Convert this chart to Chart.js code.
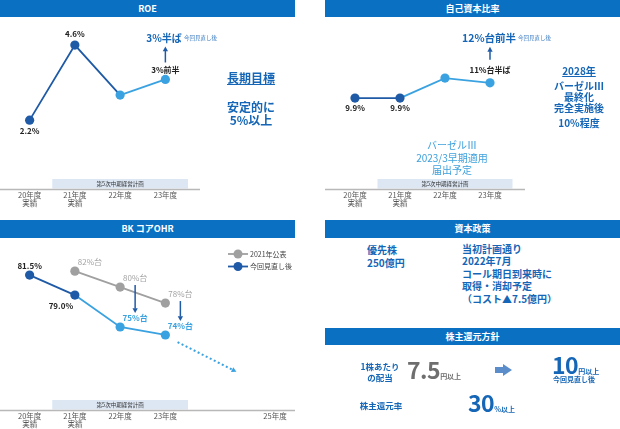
<!DOCTYPE html>
<html lang="ja">
<head>
<meta charset="utf-8">
<script src="https://cdn.jsdelivr.net/npm/chart.js@4.4.1/dist/chart.umd.min.js"></script>
<style>
  body { margin: 0; width: 620px; height: 429px; position: relative; overflow: hidden; background: #fff;
         font-family: "Noto Sans CJK JP", sans-serif; }
  .head { position: absolute; height: 17px; line-height: 17px; background: #0A70C2; color: #fff;
          font-weight: bold; font-size: 9px; text-align: center; }
  .box { position: absolute; }
  .t { position: absolute; transform: translate(-50%, -50%); white-space: nowrap; line-height: 1; }
  .l { position: absolute; transform: translateY(-50%); white-space: nowrap; line-height: 1; }
  .blue { color: #1566B6; font-weight: bold; }
  .light { color: #3DA0DC; }
  .small { font-size: 5.5px; font-weight: normal; color: #3C7CC0; }
  .big { font-size: 23px; font-weight: bold; letter-spacing: -0.5px; }
  .unit { font-size: 7px; font-weight: bold; letter-spacing: 0; }
</style>
</head>
<body>

<div class="head" style="left:0;top:0;width:295px;">ROE</div>
<div class="head" style="left:325px;top:0;width:295px;">自己資本比率</div>
<div class="head" style="left:0;top:220px;width:295px;height:18px;line-height:18px;">BK コアOHR</div>
<div class="head" style="left:325px;top:220px;width:295px;height:18px;line-height:18px;">資本政策</div>
<div class="head" style="left:325px;top:328px;width:295px;">株主還元方針</div>

<div class="box" style="left:0;top:20px;width:200px;height:193px;"><canvas id="roe-chart"></canvas></div>
<div class="box" style="left:325px;top:20px;width:200px;height:193px;"><canvas id="equity-chart"></canvas></div>
<div class="box" style="left:0;top:240px;width:300px;height:194px;"><canvas id="ohr-chart"></canvas></div>

<!-- ROE notes -->
<div class="t blue" style="left:164px;top:38px;font-size:10px;">3%半ば</div>
<div class="l small" style="left:184px;top:39px;">今回見直し後</div>
<div class="t blue" style="left:251px;top:78px;font-size:12px;text-decoration:underline;">長期目標</div>
<div class="t blue" style="left:251px;top:107px;font-size:12px;">安定的に</div>
<div class="t blue" style="left:251px;top:120px;font-size:12px;">5%以上</div>

<!-- equity notes -->
<div class="t blue" style="left:489px;top:38px;font-size:10.5px;">12%台前半</div>
<div class="l small" style="left:518px;top:39px;">今回見直し後</div>
<div class="t blue" style="left:579px;top:71px;font-size:10px;text-decoration:underline;">2028年</div>
<div class="t blue" style="left:579px;top:86px;font-size:10px;">バーゼルⅢ</div>
<div class="t blue" style="left:579px;top:97px;font-size:10px;">最終化</div>
<div class="t blue" style="left:579px;top:107.5px;font-size:10px;">完全実施後</div>
<div class="t blue" style="left:579px;top:123px;font-size:10px;">10%程度</div>
<div class="t light" style="left:452px;top:145px;font-size:10px;">バーゼルⅢ</div>
<div class="t light" style="left:452px;top:157.5px;font-size:10px;">2023/3早期適用</div>
<div class="t light" style="left:452px;top:170px;font-size:10px;">届出予定</div>

<div class="t" style="left:275px;top:416px;font-size:7.5px;color:#555;">25年度</div>

<!-- capital policy -->
<div class="box blue" style="left:367px;top:242.5px;font-size:10px;line-height:13px;">優先株<br>250億円</div>
<div class="box blue" style="left:462px;top:242.5px;font-size:10px;line-height:12.6px;">当初計画通り<br>2022年7月<br>コール期日到来時に<br>取得・消却予定<br>（コスト▲7.5億円）</div>

<!-- shareholder return -->
<div class="t blue" style="left:380px;top:366px;font-size:8.5px;">1株あたり</div>
<div class="t blue" style="left:380px;top:377px;font-size:8.5px;">の配当</div>
<div class="box big" style="left:407px;top:358px;line-height:23px;color:#6E6E6E;">7.5<span class="unit">円以上</span></div>
<div class="box" style="left:495px;top:367px;width:9px;height:6px;background:#5B8DCB;"></div>
<div class="box" style="left:503px;top:364px;width:0;height:0;border-top:6px solid transparent;border-bottom:6px solid transparent;border-left:9px solid #5B8DCB;"></div>
<div class="box big" style="left:552px;top:353px;line-height:23px;color:#1566B6;">10<span class="unit">円以上</span></div>
<div class="t blue" style="left:574px;top:379px;font-size:7px;">今回見直し後</div>
<div class="t blue" style="left:381px;top:405px;font-size:8.5px;">株主還元率</div>
<div class="box big" style="left:468px;top:391px;line-height:23px;color:#1566B6;">30<span class="unit">%以上</span></div>

<script>
const FONT = '"Noto Sans CJK JP", sans-serif';
const DARK = '#1F5AA6';
const LIGHT = '#3AA2E0';
const GRAY = '#A0A0A0';

// x axis
const yearLabels = [['20年度', '実績'], ['21年度', '実績'], '22年度', '23年度'];
const planLabel = '第5次中期経営計画';

// ROE (%)
const roeValues = [2.2, 4.6, 3.0, 3.5];
const roeLabels = ['2.2%', '4.6%', '', '3%前半'];

// 自己資本比率 (%)
const equityValues = [9.9, 9.9, 12.0, 11.5];
const equityLabels = ['9.9%', '9.9%', '', '11%台半ば'];

// BK コアOHR (%)
const ohrPublished = [null, 82.0, 80.0, 78.0];
const ohrPublishedLabels = ['', '82%台', '80%台', '78%台'];
const ohrRevised = [81.5, 79.0, 75.0, 74.0];
const ohrRevisedLabels = ['81.5%', '79.0%', '75%台', '74%台'];
const ohrLegend = ['2021年公表', '今回見直し後'];

document.addEventListener('DOMContentLoaded', function() {
    makeChart('roe-chart', [lineDataset(roeValues, 2, 2, DARK, LIGHT)], 0, 5.4, [7, 12], {
        axisEnd: 200,
        labels: [{ ds: 0, texts: roeLabels, offsets: [[0, 11], [0, -11], [0, 0], [0, -10]], color: '#222', weight: 'bold' }],
        arrows: [{ ds: 0, i: 3, dx: 0, from: -17, to: -33 }]
    });

    makeChart('equity-chart', [lineDataset(equityValues, 2, 1, DARK, LIGHT)], 0.35, 18.1, [7.5, 12.5], {
        axisEnd: 200,
        labels: [{ ds: 0, texts: equityLabels, offsets: [[0, 10], [0, 10], [0, 0], [0, -13]], color: '#222', weight: 'bold' }],
        arrows: [{ ds: 0, i: 3, dx: 0, from: -23, to: -36 }]
    });

    makeChart('ohr-chart', [
        lineDataset(ohrPublished, 4, 4, GRAY, GRAY),
        lineDataset(ohrRevised, 2, 1, DARK, LIGHT)
    ], 64.6, 85.9, [7, 112], {
        axisEnd: 295,
        labels: [
            { ds: 0, texts: ohrPublishedLabels, offsets: [[0, 0], [15, -9], [15, -9], [15, -9]], color: '#A3A3A3', weight: 'normal' },
            { ds: 1, texts: ohrRevisedLabels, offsets: [[0, -9], [-14, 11], [15, -9], [15, -9]],
              color: ['#222', '#222', LIGHT, LIGHT], weight: 'bold' }
        ],
        drops: [2, 3],
        trend: [[3.27, 73.1], [4.57, 69.4]],
        legend: [{ text: ohrLegend[0], color: GRAY }, { text: ohrLegend[1], color: DARK }]
    });
});

function lineDataset(values, darkPoints, darkSegments, dark, light) {
    return {
        data: values,
        borderColor: dark,
        borderWidth: 1.8,
        tension: 0,
        pointRadius: 4.6,
        pointHoverRadius: 4.6,
        pointBorderWidth: 0,
        pointBackgroundColor: values.map((v, i) => i < darkPoints ? dark : light),
        segment: {
            borderColor: c => c.p0DataIndex < darkSegments ? dark : light
        }
    };
}

function makeChart(id, datasets, yMin, yMax, pad, decor) {
    const ctx = document.getElementById(id).getContext('2d');
    return new Chart(ctx, {
        type: 'line',
        data: {
            labels: yearLabels,
            datasets: datasets
        },
        options: {
            responsive: true,
            maintainAspectRatio: false,
            animation: false,
            layout: {
                autoPadding: false,
                padding: { left: pad[0], right: pad[1], top: 0, bottom: 0 }
            },
            plugins: {
                legend: { display: false },
                tooltip: { enabled: false }
            },
            scales: {
                x: {
                    offset: true,
                    grid: { display: false, drawTicks: false },
                    border: { display: false },
                    ticks: {
                        color: '#555',
                        padding: 2,
                        autoSkip: false,
                        maxRotation: 0,
                        font: { family: FONT, size: 7.5, lineHeight: 1.1 }
                    },
                    afterFit: s => { s.height = 24; }
                },
                y: { display: false, min: yMin, max: yMax }
            }
        },
        plugins: [decorPlugin(decor)]
    });
}

function drawArrow(ctx, x1, y1, x2, y2, color, dashed) {
    const ang = Math.atan2(y2 - y1, x2 - x1);
    const head = 5.5;
    ctx.save();
    ctx.strokeStyle = color;
    ctx.fillStyle = color;
    ctx.lineWidth = dashed ? 2 : 1.5;
    if (dashed) ctx.setLineDash([2, 2.5]);
    ctx.beginPath();
    ctx.moveTo(x1, y1);
    ctx.lineTo(x2 - Math.cos(ang) * head * 0.8, y2 - Math.sin(ang) * head * 0.8);
    ctx.stroke();
    ctx.setLineDash([]);
    ctx.beginPath();
    ctx.moveTo(x2, y2);
    ctx.lineTo(x2 - head * Math.cos(ang - 0.5), y2 - head * Math.sin(ang - 0.5));
    ctx.lineTo(x2 - head * Math.cos(ang + 0.5), y2 - head * Math.sin(ang + 0.5));
    ctx.closePath();
    ctx.fill();
    ctx.restore();
}

function decorPlugin(d) {
    return {
        id: 'decor',
        beforeDatasetsDraw(chart) {
            const ctx = chart.ctx;
            const x = chart.scales.x;
            const bottom = chart.chartArea.bottom;
            const x1 = x.getPixelForValue(0.5);
            const x2 = x.getPixelForValue(3.5);

            ctx.save();
            ctx.fillStyle = '#DDE7F4';
            ctx.fillRect(x1, bottom - 10, x2 - x1, 9.5);
            ctx.fillStyle = '#333';
            ctx.font = '5.5px ' + FONT;
            ctx.textAlign = 'center';
            ctx.textBaseline = 'middle';
            ctx.fillText(planLabel, (x1 + x2) / 2, bottom - 5);

            ctx.strokeStyle = '#B8B8B8';
            ctx.lineWidth = 1.5;
            ctx.beginPath();
            ctx.moveTo(0, bottom + 0.5);
            ctx.lineTo(d.axisEnd, bottom + 0.5);
            ctx.stroke();
            ctx.restore();
        },
        afterDatasetsDraw(chart) {
            const ctx = chart.ctx;
            ctx.save();
            ctx.textAlign = 'center';
            ctx.textBaseline = 'middle';

            d.labels.forEach(set => {
                const pts = chart.getDatasetMeta(set.ds).data;
                ctx.font = set.weight + ' 8px ' + FONT;
                set.texts.forEach((text, i) => {
                    if (!text) return;
                    ctx.fillStyle = Array.isArray(set.color) ? set.color[i] : set.color;
                    ctx.fillText(text, pts[i].x + set.offsets[i][0], pts[i].y + set.offsets[i][1]);
                });
            });

            (d.arrows || []).forEach(a => {
                const p = chart.getDatasetMeta(a.ds).data[a.i];
                drawArrow(ctx, p.x + a.dx, p.y + a.from, p.x + a.dx, p.y + a.to, DARK, false);
            });

            // published -> revised drops
            (d.drops || []).forEach(i => {
                const g = chart.getDatasetMeta(0).data[i];
                const b = chart.getDatasetMeta(1).data[i];
                drawArrow(ctx, g.x + 15, g.y - 2, b.x + 15, b.y - 14, DARK, false);
            });

            if (d.trend) {
                const x = chart.scales.x, y = chart.scales.y;
                drawArrow(ctx,
                    x.getPixelForValue(d.trend[0][0]), y.getPixelForValue(d.trend[0][1]),
                    x.getPixelForValue(d.trend[1][0]), y.getPixelForValue(d.trend[1][1]),
                    LIGHT, true);
            }

            if (d.legend) {
                ctx.textAlign = 'left';
                ctx.font = '7px ' + FONT;
                d.legend.forEach((item, k) => {
                    const ly = 14 + k * 12.5;
                    ctx.strokeStyle = item.color;
                    ctx.fillStyle = item.color;
                    ctx.lineWidth = 1.8;
                    ctx.beginPath();
                    ctx.moveTo(228, ly);
                    ctx.lineTo(248, ly);
                    ctx.stroke();
                    ctx.beginPath();
                    ctx.arc(238, ly, 4.5, 0, Math.PI * 2);
                    ctx.fill();
                    ctx.fillStyle = '#444';
                    ctx.fillText(item.text, 250, ly);
                });
            }
            ctx.restore();
        }
    };
}
</script>
</body>
</html>
